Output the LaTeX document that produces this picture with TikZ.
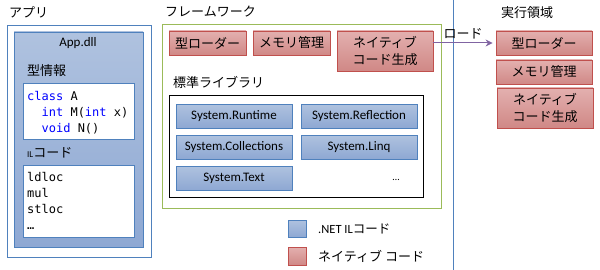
\documentclass[tikz,border=0pt]{standalone}
\usepackage{fontspec}
\setmainfont{Carlito}
\newfontfamily\jp{Noto Sans CJK JP}
\newfontfamily\cd{DejaVu Sans Mono}
\definecolor{blueB}{HTML}{4F81BD}
\definecolor{blueT}{HTML}{AFC2DF}
\definecolor{blueBot}{HTML}{8EA8D3}
\definecolor{redB}{HTML}{C0504D}
\definecolor{redT}{HTML}{E3B0AF}
\definecolor{redBot}{HTML}{D08886}
\definecolor{greenB}{HTML}{9BBB59}
\definecolor{purpA}{HTML}{8064A2}
\definecolor{kw}{HTML}{0000FF}
\tikzset{
  box/.style={rectangle, inner sep=0pt},
  jptext/.style={font=\jp\fontsize{13}{16}\selectfont, inner sep=0pt},
  codetext/.style={font=\cd\fontsize{12}{16}\selectfont, inner sep=0pt, anchor=base west},
  latin/.style={font=\fontsize{13}{16}\selectfont, inner sep=0pt},
  redbox/.style={box, draw=redB, line width=0.8pt, top color=redT, bottom color=redBot,
     font=\jp\fontsize{13}{17}\selectfont, align=center},
  bluebox/.style={box, draw=blueB, line width=0.8pt, top color=blueT, bottom color=blueBot,
     font=\fontsize{13}{16}\selectfont},
  whitebox/.style={box, draw=blueB, line width=0.8pt, fill=white},
  arrowc/.style={draw=purpA, line width=1pt, -{Stealth[length=7pt,width=7pt]}},
}
\usetikzlibrary{arrows.meta}
\begin{document}
\begin{tikzpicture}[x=1pt,y=-1pt]
\useasboundingbox (0,0) rectangle (600,270);
% vertical divider
\coordinate (vt) at (453,0);
\coordinate (vb) at (453,270);
\draw[blueB, line width=0.8pt] (vt) -- (vb);

% ---------- App ----------
\node[jptext, anchor=west] (lapp) at (9,12) {アプリ};
\node[whitebox, line width=0.6pt, minimum width=144pt, minimum height=232pt] (app) at (79,141) {};
\node[bluebox, minimum width=129pt, minimum height=215pt] (dll) at (78.5,139.5) {};
\node[latin] (dllname) at (78,43) {App.dll};
\node[jptext, anchor=west] (ltype) at (27,71) {型情報};
\node[whitebox, minimum width=111pt, minimum height=56pt] (typebox) at (78.5,111) {};
\node[codetext] (c1) at (27,100) {\textcolor{kw}{class} A};
\node[codetext] (c2) at (27,116) {\phantom{xx}\textcolor{kw}{int} M(\textcolor{kw}{int} x)};
\node[codetext] (c3) at (27,132) {\phantom{xx}\textcolor{kw}{void} N()};
\node[jptext, anchor=west] (lil) at (27,153) {{\rmfamily\fontsize{9}{9}\selectfont IL}コード};
\node[whitebox, minimum width=111pt, minimum height=72pt] (ilbox) at (78.5,201) {};
\node[codetext] (i1) at (27,181) {ldloc};
\node[codetext] (i2) at (27,197) {mul};
\node[codetext] (i3) at (27,213) {stloc};
\node[codetext] (i4) at (27,229) {…};

% ---------- Framework ----------
\node[jptext, anchor=west] (lfw) at (165,12) {フレームワーク};
\node[box, draw=greenB, line width=0.8pt, minimum width=279pt, minimum height=184pt] (fw) at (301.5,116) {};
\node[redbox, minimum width=77pt, minimum height=24pt] (fload) at (207.5,43) {型ローダー};
\node[redbox, minimum width=77pt, minimum height=24pt] (fmem) at (291.5,43) {メモリ管理};
\node[redbox, minimum width=96pt, minimum height=40pt] (fnat) at (385,51) {ネイティブ\\コード生成};
\node[jptext, anchor=west] (lstd) at (173,82) {標準ライブラリ};
\node[box, draw=black, line width=0.8pt, minimum width=254pt, minimum height=102pt] (std) at (296,146) {};
\node[bluebox, minimum width=116pt, minimum height=24pt] (s1) at (234,116) {System.Runtime};
\node[bluebox, minimum width=116pt, minimum height=24pt] (s2) at (359,116) {System.Reflection};
\node[bluebox, minimum width=116pt, minimum height=24pt] (s3) at (234,147) {System.Collections};
\node[bluebox, minimum width=116pt, minimum height=24pt] (s4) at (359,147) {System.Linq};
\node[bluebox, minimum width=116pt, minimum height=24pt] (s5) at (234,178) {System.Text};
\node[latin, font=\fontsize{10}{10}\selectfont] (sdots) at (396,180) {…};

% ---------- Legend ----------
\node[bluebox, minimum width=18pt, minimum height=17pt] (legb) at (297,228.5) {};
\node[latin, anchor=west, font=\fontsize{12.5}{14}\selectfont] (legbt) at (318,229) {.NET IL{\jp コード}};
\node[redbox, minimum width=18pt, minimum height=18pt] (legr) at (297,256) {};
\node[jptext, anchor=west] (legrt) at (318,256) {ネイティブ コード};

% ---------- Runtime ----------
\node[jptext] (lrt) at (527,13) {実行領域};
\node[redbox, minimum width=96pt, minimum height=24pt] (rload) at (544,43) {型ローダー};
\node[redbox, minimum width=96pt, minimum height=24pt] (rmem) at (544,72) {メモリ管理};
\node[redbox, minimum width=96pt, minimum height=40pt] (rnat) at (545,108) {ネイティブ\\コード生成};

% arrow
\draw[arrowc] (fnat.east |- rload.west) -- node[jptext, above=3pt] (lload) {ロード} ([xshift=-3pt]rload.west);
\end{tikzpicture}
\end{document}
